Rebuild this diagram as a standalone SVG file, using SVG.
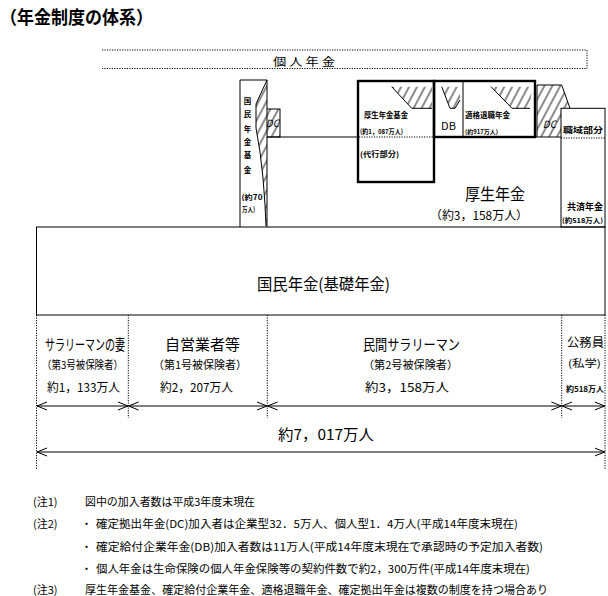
<svg xmlns="http://www.w3.org/2000/svg" width="608" height="596" viewBox="0 0 608 596">
<defs>
<style>
text{font-family:"Noto Sans CJK JP","Noto Sans CJK SC",sans-serif;fill:#000}
.b{font-weight:bold}
.thin{fill:none;stroke:#000;stroke-width:1}
.thick{fill:none;stroke:#000;stroke-width:2.4}
.dot{fill:none;stroke:#000;stroke-width:1;stroke-dasharray:1.2 1.3}
.hatch{fill:url(#hatch);stroke:none}
.arr{fill:none;stroke:#000;stroke-width:1.2;marker-start:url(#ah);marker-end:url(#ah)}
</style>
<pattern id="hatch" patternUnits="userSpaceOnUse" width="7" height="20" patternTransform="rotate(28)">
<line x1="3" y1="0" x2="3" y2="20" stroke="#000" stroke-width="0.9"/>
</pattern>
<marker id="ah" markerWidth="11" markerHeight="10" refX="10" refY="5" orient="auto-start-reverse" markerUnits="userSpaceOnUse">
<path d="M0,1 L10,5 L0,9" fill="none" stroke="#000" stroke-width="1"/>
</marker>
</defs>
<rect width="608" height="596" fill="#fff"/>

<g id="title">
<text x="0" y="24" font-size="18" class="b" textLength="153" lengthAdjust="spacingAndGlyphs">（年金制度の体系）</text>
</g>

<g id="kojin-nenkin">
<path class="dot" d="M102,50 L587,50 L587,68.5 L102,68.5"/>
<text x="273" y="66" font-size="11" textLength="62" lengthAdjust="spacingAndGlyphs">個 人 年 金</text>
</g>

<g id="kokumin-nenkin-kikin">
<polygon class="hatch" points="267,80 256,104 256,128 260,152 263,178 265,205 266,226 267,226"/>
<path class="thin" d="M267,80 L256,104 L256,128 L260,152 L263,178 L265,205 L266,226"/>
<path class="thin" d="M240,227 L240,80 L267,80 L267,109 M267,137 L267,227"/>
<rect x="267" y="109" width="13" height="28" class="hatch"/>
<rect x="267" y="109" width="13" height="28" class="thin"/>
<text x="272.5" y="127" font-size="10" text-anchor="middle" font-style="italic">DC</text>
<g font-size="7.5" class="b" text-anchor="middle">
<text x="247.5" y="104">国</text>
<text x="247.5" y="117">民</text>
<text x="247.5" y="132">年</text>
<text x="247.5" y="145">金</text>
<text x="247.5" y="158">基</text>
<text x="247.5" y="173">金</text>
</g>
<text x="241.5" y="200" font-size="7" class="b" textLength="21" lengthAdjust="spacingAndGlyphs">(約70</text>
<text x="242" y="212" font-size="7" class="b" textLength="13" lengthAdjust="spacingAndGlyphs">万人)</text>
</g>

<g id="kosei-nenkin">
<path class="thin" d="M267,137 L358,137 M535,137 L561,137"/>
<text x="465" y="200" font-size="16" textLength="60" lengthAdjust="spacingAndGlyphs">厚生年金</text>
<text x="430" y="220" font-size="12" textLength="98" lengthAdjust="spacingAndGlyphs">（約3，158万人）</text>
</g>

<g id="kosei-nenkin-kikin">
<polygon class="hatch" points="391.7,86.7 432,86.7 432,108.3 411.7,108.3"/>
<path class="thin" d="M391.7,86.7 L411.7,108.3 L432,108.3"/>
<rect x="358" y="81" width="76" height="101" class="thick"/>
<line x1="359" y1="137" x2="433" y2="137" class="dot"/>
<text x="364" y="118" font-size="7.5" class="b" textLength="44" lengthAdjust="spacingAndGlyphs">厚生年金基金</text>
<text x="360" y="134" font-size="6.5" class="b" textLength="43" lengthAdjust="spacingAndGlyphs">(約1，087万人)</text>
<text x="360" y="157" font-size="7.5" class="b" textLength="39" lengthAdjust="spacingAndGlyphs">(代行部分)</text>
</g>

<g id="db">
<polygon class="hatch" points="441.7,86.7 460,86.7 460,100 455,108.3 450,108.3"/>
<path class="thin" d="M441.7,86.7 L450,108.3 L455,108.3 L460,100"/>
<line x1="463" y1="81" x2="463" y2="137" class="thin"/>
<text x="448.5" y="130" font-size="11" text-anchor="middle">DB</text>
</g>

<g id="tekikaku">
<polygon class="hatch" points="491,86.7 532,86.7 530,108.3 512,108.3"/>
<path class="thin" d="M491,86.7 L512,108.3 L530,108.3"/>
<rect x="434" y="81" width="101" height="56" class="thick"/>
<text x="465" y="118" font-size="7.5" class="b" textLength="45" lengthAdjust="spacingAndGlyphs">適格退職年金</text>
<text x="465" y="134" font-size="6" class="b" textLength="33" lengthAdjust="spacingAndGlyphs">(約917万人)</text>
</g>

<g id="dc-kigyo">
<polygon class="hatch" points="537,85 561.7,85 570,108.3 561,108.3 561,137 537,137"/>
<path class="thin" d="M537,137 L537,85 L561.7,85 L570,108.3"/>
<text x="549.5" y="128" font-size="10" text-anchor="middle" font-style="italic">DC</text>
</g>

<g id="kyosai-nenkin">
<rect x="561" y="108.3" width="44" height="118.7" class="thin"/>
<line x1="561" y1="138" x2="605" y2="138" class="dot"/>
<text x="563" y="133" font-size="8" class="b" textLength="40" lengthAdjust="spacingAndGlyphs">職域部分</text>
<text x="567" y="210" font-size="9" class="b" textLength="36" lengthAdjust="spacingAndGlyphs">共済年金</text>
<text x="562" y="223" font-size="6.5" class="b" textLength="41" lengthAdjust="spacingAndGlyphs">(約518万人)</text>
</g>

<g id="kokumin-nenkin">
<rect x="36.5" y="227" width="568.5" height="88" class="thin"/>
<text x="257" y="290" font-size="16" textLength="133" lengthAdjust="spacingAndGlyphs">国民年金(基礎年金)</text>
</g>

<g id="labels">
<text x="45" y="350" font-size="15" textLength="80" lengthAdjust="spacingAndGlyphs">サラリーマンの妻</text>
<text x="42" y="369" font-size="11" textLength="81" lengthAdjust="spacingAndGlyphs">（第3号被保険者）</text>
<text x="47" y="392" font-size="12" textLength="73" lengthAdjust="spacingAndGlyphs">約1，133万人</text>
<text x="165" y="350" font-size="15" textLength="75" lengthAdjust="spacingAndGlyphs">自営業者等</text>
<text x="153" y="369" font-size="11" textLength="94" lengthAdjust="spacingAndGlyphs">（第1号被保険者）</text>
<text x="160" y="392" font-size="12" textLength="73" lengthAdjust="spacingAndGlyphs">約2，207万人</text>
<text x="363" y="350" font-size="15" textLength="97" lengthAdjust="spacingAndGlyphs">民間サラリーマン</text>
<text x="363" y="369" font-size="11" textLength="95" lengthAdjust="spacingAndGlyphs">（第2号被保険者）</text>
<text x="365" y="392" font-size="12" textLength="84" lengthAdjust="spacingAndGlyphs">約3，158万人</text>
<text x="567" y="347" font-size="12" textLength="37" lengthAdjust="spacingAndGlyphs">公務員</text>
<text x="568" y="367" font-size="10" textLength="33" lengthAdjust="spacingAndGlyphs">(私学)</text>
<text x="566" y="392" font-size="7.5" class="b" textLength="38" lengthAdjust="spacingAndGlyphs">約518万人</text>
<text x="278" y="440" font-size="15" textLength="96" lengthAdjust="spacingAndGlyphs">約7，017万人</text>
</g>

<g id="connectors">
<path class="dot" d="M36.5,315 L36.5,470 M128.3,315 L128.3,418 M267.3,315 L267.3,418 M561.7,315 L561.7,418 M605,315 L605,470"/>
<line x1="37" y1="406" x2="128" y2="406" class="arr"/>
<line x1="128.6" y1="406" x2="267" y2="406" class="arr"/>
<line x1="267.6" y1="406" x2="561.4" y2="406" class="arr"/>
<line x1="562" y1="406" x2="604.7" y2="406" class="arr"/>
<line x1="37" y1="452" x2="604.7" y2="452" class="arr"/>
</g>

<g id="notes" font-size="11">
<text x="33" y="506">(注1)</text>
<text x="85" y="506" textLength="170" lengthAdjust="spacingAndGlyphs">図中の加入者数は平成3年度末現在</text>
<text x="33" y="528">(注2)</text>
<text x="81" y="528">・</text>
<text x="96" y="528" textLength="422" lengthAdjust="spacingAndGlyphs">確定拠出年金(DC)加入者は企業型32．5万人、個人型1．4万人(平成14年度末現在)</text>
<text x="81" y="551">・</text>
<text x="96" y="551" textLength="447" lengthAdjust="spacingAndGlyphs">確定給付企業年金(DB)加入者数は11万人(平成14年度末現在で承認時の予定加入者数)</text>
<text x="81" y="573">・</text>
<text x="96" y="573" textLength="434" lengthAdjust="spacingAndGlyphs">個人年金は生命保険の個人年金保険等の契約件数で約2，300万件(平成14年度末現在)</text>
<text x="33" y="594">(注3)</text>
<text x="85" y="594" textLength="463" lengthAdjust="spacingAndGlyphs">厚生年金基金、確定給付企業年金、適格退職年金、確定拠出年金は複数の制度を持つ場合あり</text>
</g>
</svg>
